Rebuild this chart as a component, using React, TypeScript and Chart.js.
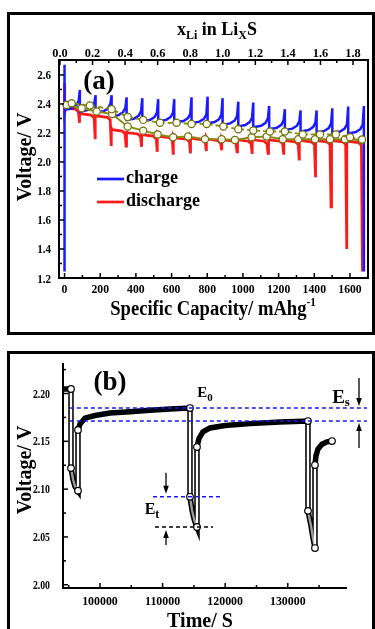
import React, { useEffect, useRef } from "react";
import { Chart, registerables } from "chart.js";
Chart.register(...registerables);

const FONT = '"Liberation Serif", "Times New Roman", serif';

// ---------- Panel (a): GITT voltage vs specific capacity ----------
const chargeCurve: number[][] = [
  [0, 1.245], [0, 2.67], [0, 2.36], [41, 2.368], [66, 2.39], [79, 2.42], [86, 2.497], [86, 2.347],
  [129, 2.357], [154, 2.377], [167, 2.407], [174, 2.46], [174, 2.34],
  [219, 2.35], [244, 2.37], [257, 2.4], [264, 2.46], [264, 2.313],
  [303, 2.323], [328, 2.343], [341, 2.373], [348, 2.446], [348, 2.29],
  [391, 2.3], [416, 2.32], [429, 2.35], [436, 2.44], [436, 2.28],
  [480, 2.29], [505, 2.31], [518, 2.34], [525, 2.433], [525, 2.28],
  [570, 2.29], [595, 2.31], [608, 2.34], [615, 2.433], [615, 2.272],
  [667, 2.282], [692, 2.302], [705, 2.332], [712, 2.446], [712, 2.268],
  [757, 2.278], [782, 2.298], [795, 2.328], [802, 2.45], [802, 2.265],
  [841, 2.275], [866, 2.295], [879, 2.325], [886, 2.44], [886, 2.256],
  [929, 2.266], [954, 2.286], [967, 2.316], [974, 2.416], [974, 2.245],
  [1013, 2.255], [1038, 2.275], [1051, 2.305], [1058, 2.41], [1058, 2.24],
  [1102, 2.25], [1127, 2.27], [1140, 2.3], [1147, 2.386], [1147, 2.226],
  [1190, 2.236], [1215, 2.256], [1228, 2.286], [1235, 2.364], [1235, 2.22],
  [1278, 2.23], [1303, 2.25], [1316, 2.28], [1323, 2.355], [1323, 2.21],
  [1368, 2.22], [1393, 2.24], [1406, 2.27], [1413, 2.355], [1413, 2.204],
  [1456, 2.214], [1481, 2.234], [1494, 2.264], [1501, 2.37], [1501, 2.2],
  [1545, 2.21], [1570, 2.23], [1583, 2.26], [1590, 2.382], [1590, 2.196],
  [1633, 2.206], [1658, 2.226], [1671, 2.256], [1678, 2.386], [1678, 1.245],
];

const dischargeCurve: number[][] = [
  [0, 2.545], [1, 2.34], [8, 2.372], [62, 2.365], [78, 2.345], [84, 2.27], [84, 2.345],
  [89, 2.333], [150, 2.323], [166, 2.305], [172, 2.157], [172, 2.33],
  [177, 2.318], [240, 2.308], [256, 2.29], [262, 2.11], [262, 2.235],
  [267, 2.223], [323, 2.213], [339, 2.195], [345, 2.11], [345, 2.215],
  [350, 2.203], [410, 2.193], [426, 2.175], [432, 2.105], [432, 2.2],
  [437, 2.188], [498, 2.178], [514, 2.16], [520, 2.07], [520, 2.19],
  [525, 2.178], [588, 2.168], [604, 2.15], [610, 2.05], [610, 2.18],
  [615, 2.168], [684, 2.158], [700, 2.14], [706, 2.06], [706, 2.175],
  [711, 2.163], [773, 2.153], [789, 2.135], [795, 2.075], [795, 2.17],
  [800, 2.158], [859, 2.148], [875, 2.13], [881, 2.08], [881, 2.165],
  [886, 2.153], [945, 2.143], [961, 2.125], [967, 2.07], [967, 2.165],
  [972, 2.153], [1030, 2.143], [1046, 2.125], [1052, 2.056], [1052, 2.165],
  [1057, 2.153], [1119, 2.143], [1135, 2.125], [1141, 2.06], [1141, 2.165],
  [1146, 2.153], [1207, 2.143], [1223, 2.125], [1229, 2.05], [1229, 2.16],
  [1234, 2.148], [1294, 2.138], [1310, 2.12], [1316, 2.01], [1316, 2.16],
  [1321, 2.148], [1385, 2.138], [1401, 2.12], [1407, 1.895], [1407, 2.16],
  [1412, 2.148], [1472, 2.138], [1488, 2.12], [1494, 1.69], [1494, 2.16],
  [1499, 2.148], [1560, 2.138], [1576, 2.12], [1582, 1.4], [1582, 2.155],
  [1587, 2.143], [1648, 2.133], [1664, 2.115], [1670, 1.245],
];

const ocvChargeCap = [12, 40, 142, 264, 354, 441, 535, 628, 712, 797, 890, 974, 1058, 1151, 1235, 1335, 1432, 1521, 1600, 1668];
const ocvChargeV = [2.393, 2.405, 2.389, 2.364, 2.31, 2.29, 2.27, 2.27, 2.262, 2.262, 2.245, 2.226, 2.217, 2.21, 2.21, 2.19, 2.19, 2.19, 2.17, 2.155];
const ocvDischargeCap = [12, 96, 180, 267, 354, 441, 522, 609, 693, 787, 881, 955, 1049, 1133, 1223, 1310, 1404, 1488, 1572, 1665];
const ocvDischargeV = [2.393, 2.37, 2.348, 2.33, 2.245, 2.216, 2.19, 2.17, 2.176, 2.157, 2.157, 2.152, 2.171, 2.175, 2.157, 2.157, 2.157, 2.157, 2.157, 2.152];

const capTicks = [0, 200, 400, 600, 800, 1000, 1200, 1400, 1600];
const capMinorTicks = [100, 300, 500, 700, 900, 1100, 1300, 1500];
const xLiTicks = [0, 0.2, 0.4, 0.6, 0.8, 1.0, 1.2, 1.4, 1.6, 1.8];
const xLiMinorTicks = [0.1, 0.3, 0.5, 0.7, 0.9, 1.1, 1.3, 1.5, 1.7];
const voltTicksA = [1.2, 1.4, 1.6, 1.8, 2.0, 2.2, 2.4, 2.6];
const voltMinorA = [1.3, 1.5, 1.7, 1.9, 2.1, 2.3, 2.5];

// ---------- Panel (b): voltage vs time ----------
const timeCurve: number[][] = [
  [94150, 2.2047], [95367, 2.2047], [95367, 2.122], [95700, 2.11], [96000, 2.103], [96486, 2.0984],
  [96486, 2.1619], [96805, 2.168], [97604, 2.1743], [99201, 2.177], [101597, 2.1795], [104792, 2.181],
  [107987, 2.1825], [111182, 2.1838], [114377, 2.1848],
  [114377, 2.092], [114700, 2.078], [115100, 2.067], [115495, 2.0604],
  [115495, 2.144], [115815, 2.153], [116454, 2.16], [117572, 2.164], [119968, 2.1665], [123962, 2.1685],
  [128754, 2.1703], [133227, 2.1712],
  [133227, 2.0773], [133700, 2.062], [134000, 2.05], [134345, 2.0384],
  [134345, 2.1252], [134505, 2.135], [134824, 2.142], [135463, 2.147], [136262, 2.1495], [137061, 2.1503],
];
const timeMarkers: number[][] = [
  [95367, 2.2047], [95367, 2.122], [96486, 2.0984], [96486, 2.1619], [114377, 2.1848], [114377, 2.092],
  [115495, 2.0604], [115495, 2.144], [133227, 2.1712], [133227, 2.0773], [134345, 2.0384], [134345, 2.1252],
  [137061, 2.1503],
];
const e0Level = 2.1848;
const eSteadyLevel = 2.1712;
const etUpper = 2.092;
const etLower = 2.0604;
const esLineTimes = [95188, 142650];
const etUpperTimes = [108466, 119489];
const etLowerTimes = [108786, 118051];

const timeTicks = [100000, 110000, 120000, 130000];
const timeMinorTicks = [95000, 105000, 115000, 125000, 135000];
const voltTicksB = [2.0, 2.05, 2.1, 2.15, 2.2];
const voltMinorB = [2.025, 2.075, 2.125, 2.175, 2.225];

const toXY = (arr: number[][]) => arr.map(([x, y]) => ({ x, y }));
const zipXY = (xs: number[], ys: number[]) => xs.map((x, i) => ({ x, y: ys[i] }));

function richText(ctx: CanvasRenderingContext2D, parts: { t: string; size: number; dy?: number }[], cx: number, y: number, sx = 1) {
  let total = 0;
  for (const p of parts) {
    ctx.font = `bold ${p.size}px ${FONT}`;
    total += ctx.measureText(p.t).width;
  }
  ctx.save();
  ctx.translate(cx, y);
  ctx.scale(sx, 1);
  let x = -total / 2;
  ctx.textAlign = "left";
  ctx.textBaseline = "alphabetic";
  for (const p of parts) {
    ctx.font = `bold ${p.size}px ${FONT}`;
    ctx.fillText(p.t, x, p.dy || 0);
    x += ctx.measureText(p.t).width;
  }
  ctx.restore();
}

function label(ctx: CanvasRenderingContext2D, text: string, x: number, y: number, align: CanvasTextAlign, size: number, sx = 1) {
  ctx.save();
  ctx.translate(x, y);
  ctx.scale(sx, 1);
  ctx.font = `bold ${size}px ${FONT}`;
  ctx.textAlign = align;
  ctx.textBaseline = "alphabetic";
  ctx.fillText(text, 0, 0);
  ctx.restore();
}

function arrow(ctx: CanvasRenderingContext2D, x: number, y1: number, y2: number) {
  const dir = y2 > y1 ? 1 : -1;
  ctx.beginPath();
  ctx.moveTo(x, y1);
  ctx.lineTo(x, y2 - dir * 6);
  ctx.stroke();
  ctx.beginPath();
  ctx.moveTo(x, y2);
  ctx.lineTo(x - 2.8, y2 - dir * 8);
  ctx.lineTo(x + 2.8, y2 - dir * 8);
  ctx.closePath();
  ctx.fill();
}

function PanelA() {
  const ref = useRef<HTMLCanvasElement>(null);
  useEffect(() => {
    const deco = {
      id: "decoA",
      afterDraw(chart: any) {
        const { ctx, chartArea: ca, scales } = chart;
        ctx.save();
        ctx.strokeStyle = "#000";
        ctx.fillStyle = "#000";
        ctx.lineWidth = 2;
        ctx.strokeRect(ca.left, ca.top, ca.right - ca.left, ca.bottom - ca.top);
        ctx.lineWidth = 1.5;
        const tk = (x1: number, y1: number, x2: number, y2: number) => {
          ctx.beginPath(); ctx.moveTo(x1, y1); ctx.lineTo(x2, y2); ctx.stroke();
        };
        capTicks.forEach((v) => {
          const x = scales.x.getPixelForValue(v);
          tk(x, ca.bottom, x, ca.bottom - 5);
          label(ctx, String(v), x, ca.bottom + 14.5, "center", 13, 0.9);
        });
        capMinorTicks.forEach((v) => { const x = scales.x.getPixelForValue(v); tk(x, ca.bottom, x, ca.bottom - 3); });
        xLiTicks.forEach((v) => {
          const x = scales.x2.getPixelForValue(v);
          tk(x, ca.top, x, ca.top + 5);
          label(ctx, v.toFixed(1), x, ca.top - 3.5, "center", 13, 0.95);
        });
        xLiMinorTicks.forEach((v) => { const x = scales.x2.getPixelForValue(v); tk(x, ca.top, x, ca.top + 3); });
        voltTicksA.forEach((v) => {
          const y = scales.y.getPixelForValue(v);
          tk(ca.left, y, ca.left + 5, y);
          label(ctx, v.toFixed(1), ca.left - 8, y + 4.5, "right", 13, 0.85);
        });
        voltMinorA.forEach((v) => { const y = scales.y.getPixelForValue(v); tk(ca.left, y, ca.left + 3, y); });

        // top title
        richText(ctx, [
          { t: "x", size: 18 }, { t: "Li", size: 12, dy: 4 }, { t: " in Li", size: 18 },
          { t: "X", size: 12, dy: 4 }, { t: "S", size: 18 },
        ], 217, 35);
        // bottom title
        richText(ctx, [{ t: "Specific Capacity/ mAhg", size: 20 }, { t: "-1", size: 12, dy: -9 }], 213, 315, 0.93);
        // y title
        ctx.save();
        ctx.translate(31, 157);
        ctx.rotate(-Math.PI / 2);
        ctx.textAlign = "center";
        ctx.textBaseline = "alphabetic";
        ctx.font = `bold 20px ${FONT}`;
        ctx.fillText("Voltage/ V", 0, 0);
        ctx.restore();
        // panel label
        label(ctx, "(a)", 99, 89, "center", 27);
        // legend
        ctx.lineWidth = 2.7;
        ctx.strokeStyle = "#1a1aff";
        tk(97, 179, 124, 179);
        ctx.strokeStyle = "#ff1a1a";
        tk(97, 202, 124, 202);
        label(ctx, "charge", 126, 183, "left", 18);
        label(ctx, "discharge", 126, 206, "left", 18);
        ctx.restore();
      },
    };
    const hidden = { display: false };
    const chart = new Chart(ref.current!, {
      type: "line",
      data: {
        datasets: [
          {
            data: zipXY(ocvChargeCap, ocvChargeV),
            borderColor: "#8c8c14", borderWidth: 1.8, borderDash: [5, 3],
            pointRadius: 3.6, pointBackgroundColor: "#fffff0", pointBorderColor: "#6e6e10", pointBorderWidth: 1.2,
          },
          {
            data: zipXY(ocvDischargeCap, ocvDischargeV),
            borderColor: "#8c8c14", borderWidth: 2,
            pointRadius: 3.6, pointBackgroundColor: "#fffff0", pointBorderColor: "#6e6e10", pointBorderWidth: 1.2,
          },
          { data: toXY(chargeCurve), borderColor: "#1a1aff", borderWidth: 2.5, pointRadius: 0 },
          { data: toXY(dischargeCurve), borderColor: "#ff1a1a", borderWidth: 2.8, pointRadius: 0 },
        ],
      },
      options: {
        animation: false,
        responsive: false,
        maintainAspectRatio: false,
        events: [],
        layout: { padding: { left: 0, right: 7, top: 0, bottom: 0 } },
        plugins: { legend: { display: false }, tooltip: { enabled: false } },
        elements: { line: { tension: 0 } },
        scales: {
          x: {
            type: "linear", position: "bottom", min: -31, max: 1701,
            grid: hidden, border: hidden, ticks: hidden,
            afterFit: (s: any) => { s.height = 55; },
          },
          x2: {
            type: "linear", position: "top", min: -0.006, max: 1.892,
            grid: hidden, border: hidden, ticks: hidden,
            afterFit: (s: any) => { s.height = 60; },
          },
          y: {
            type: "linear", position: "left", min: 1.2, max: 2.703,
            grid: hidden, border: hidden, ticks: hidden,
            afterFit: (s: any) => { s.width = 59; },
          },
        },
      },
      plugins: [deco],
    } as any);
    return () => chart.destroy();
  }, []);
  return <canvas ref={ref} width={375} height={333} style={{ position: "absolute", left: 0, top: 0, width: 375, height: 333 }} />;
}

function PanelB() {
  const ref = useRef<HTMLCanvasElement>(null);
  useEffect(() => {
    const deco = {
      id: "decoB",
      afterDraw(chart: any) {
        const { ctx, chartArea: ca, scales } = chart;
        const sx = scales.x, sy = scales.y;
        ctx.save();
        ctx.strokeStyle = "#000";
        ctx.fillStyle = "#000";
        ctx.lineWidth = 2;
        ctx.beginPath();
        ctx.moveTo(ca.left, ca.top);
        ctx.lineTo(ca.left, ca.bottom);
        ctx.lineTo(ca.right, ca.bottom);
        ctx.stroke();
        ctx.lineWidth = 1.5;
        const tk = (x1: number, y1: number, x2: number, y2: number) => {
          ctx.beginPath(); ctx.moveTo(x1, y1); ctx.lineTo(x2, y2); ctx.stroke();
        };
        timeTicks.forEach((v) => {
          const x = sx.getPixelForValue(v);
          tk(x, ca.bottom, x, ca.bottom - 5);
          label(ctx, String(v), x, ca.bottom + 16.5, "center", 12.5, 0.95);
        });
        timeMinorTicks.forEach((v) => { const x = sx.getPixelForValue(v); tk(x, ca.bottom, x, ca.bottom - 3); });
        voltTicksB.forEach((v) => {
          const y = sy.getPixelForValue(v);
          tk(ca.left, y, ca.left + 5, y);
          label(ctx, v.toFixed(2), ca.left - 13, y + 4, "right", 11.5, 0.85);
        });
        voltMinorB.forEach((v) => { const y = sy.getPixelForValue(v); tk(ca.left, y, ca.left + 3, y); });

        // titles
        label(ctx, "Time/ S", 200, 294, "center", 20);
        ctx.save();
        ctx.translate(31, 137);
        ctx.rotate(-Math.PI / 2);
        ctx.textAlign = "center";
        ctx.textBaseline = "alphabetic";
        ctx.font = `bold 20px ${FONT}`;
        ctx.fillText("Voltage/ V", 0, 0);
        ctx.restore();
        label(ctx, "(b)", 110, 57, "center", 27);

        // annotations
        const yE0 = sy.getPixelForValue(e0Level);
        const yEs = sy.getPixelForValue(eSteadyLevel);
        const yEtU = sy.getPixelForValue(etUpper);
        const yEtL = sy.getPixelForValue(etLower);
        richText(ctx, [{ t: "E", size: 15 }, { t: "0", size: 11, dy: 4 }], 205, yE0 - 11);
        richText(ctx, [{ t: "E", size: 19 }, { t: "s", size: 13, dy: 3 }], 341, yE0 - 5);
        richText(ctx, [{ t: "E", size: 16 }, { t: "t", size: 12, dy: 4 }], 152, yEtU + 17);
        ctx.lineWidth = 1.3;
        arrow(ctx, 359, yE0 - 30, yE0 - 2);
        arrow(ctx, 359, yEs + 27, yEs + 2);
        arrow(ctx, 166, yEtU - 24, yEtU - 3);
        arrow(ctx, 166, yEtL + 18, yEtL + 3);
        ctx.restore();
      },
    };
    const dash = (y: number, ts: number[], color: string) => ({
      data: [{ x: ts[0], y }, { x: ts[1], y }],
      borderColor: color, borderWidth: 1.6, borderDash: [4, 3], pointRadius: 0, clip: false,
    });
    const hidden = { display: false };
    const chart = new Chart(ref.current!, {
      type: "line",
      data: {
        datasets: [
          dash(e0Level, esLineTimes, "#1a1aee"),
          dash(eSteadyLevel, esLineTimes, "#1a1aee"),
          dash(etUpper, etUpperTimes, "#1a1aee"),
          dash(etLower, etLowerTimes, "#000"),
          {
            data: toXY(timeMarkers), showLine: false,
            pointRadius: 3.3, pointBackgroundColor: "#fff", pointBorderColor: "#000", pointBorderWidth: 1.2,
          },
          {
            data: toXY(timeCurve), borderWidth: 2.4, pointRadius: 0,
            borderColor: "#fff",
            segment: {
              borderColor: (c: any) => {
                if (c.p0.parsed.x === c.p1.parsed.x) return "#fff";
                if (c.p1.parsed.y < c.p0.parsed.y) return "#9a9a9a";
                return "rgba(0,0,0,0)";
              },
            },
          },
          { data: toXY(timeCurve), borderColor: "#000", borderWidth: 5.5, pointRadius: 0 },
        ],
      },
      options: {
        animation: false,
        responsive: false,
        maintainAspectRatio: false,
        events: [],
        layout: { padding: { left: 0, right: 28, top: 30, bottom: 0 } },
        plugins: { legend: { display: false }, tooltip: { enabled: false } },
        elements: { line: { tension: 0 } },
        scales: {
          x: {
            type: "linear", position: "bottom", min: 94090, max: 139460,
            grid: hidden, border: hidden, ticks: hidden,
            afterFit: (s: any) => { s.height = 41; },
          },
          y: {
            type: "linear", position: "left", min: 1.9966, max: 2.2319,
            grid: hidden, border: hidden, ticks: hidden,
            afterFit: (s: any) => { s.width = 63; },
          },
        },
      },
      plugins: [deco],
    } as any);
    return () => chart.destroy();
  }, []);
  return <canvas ref={ref} width={375} height={296} style={{ position: "absolute", left: 0, top: 333, width: 375, height: 296 }} />;
}

export default function App() {
  return (
    <div style={{ position: "absolute", left: 0, top: 0, width: 375, height: 629, overflow: "hidden", background: "#fff" }}>
      <PanelA />
      <PanelB />
      <div style={{ position: "absolute", left: 7, top: 12, width: 368, height: 323, border: "3px solid #000", boxSizing: "border-box" }} />
      <div style={{ position: "absolute", left: 7, top: 351, width: 368, height: 300, border: "3px solid #000", boxSizing: "border-box" }} />
    </div>
  );
}
